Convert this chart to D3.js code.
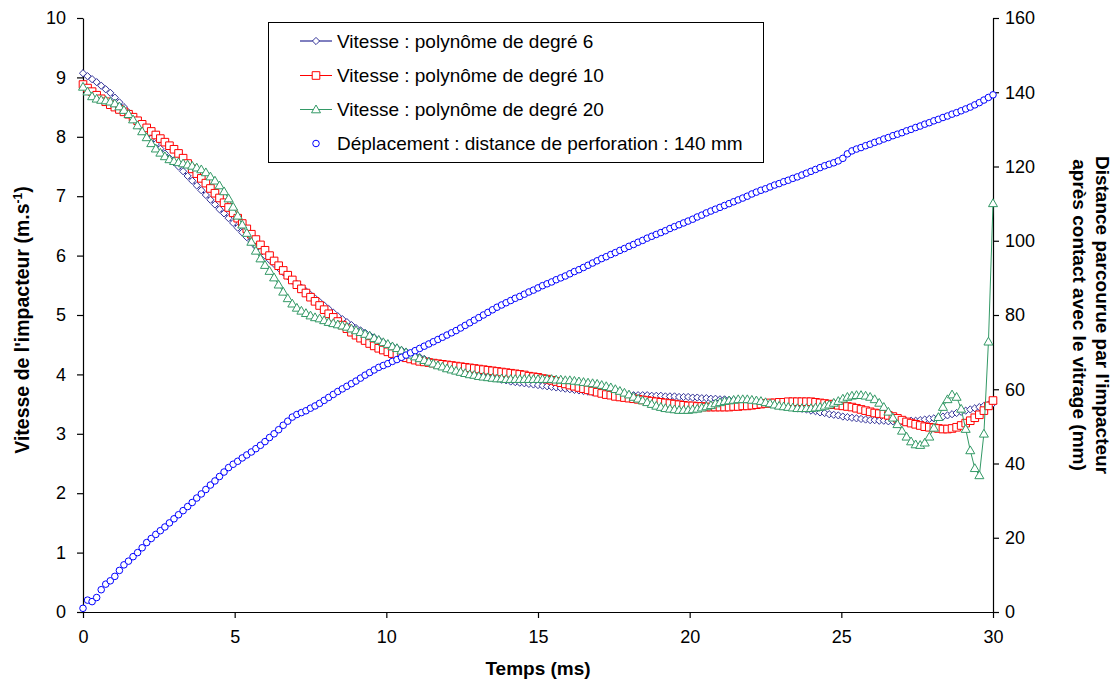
<!DOCTYPE html>
<html>
<head>
<meta charset="utf-8">
<script src="https://cdn.jsdelivr.net/npm/d3@7"></script>
<style>
html,body{margin:0;padding:0;background:#fff;}
svg{display:block;font-family:"Liberation Sans",Arial,sans-serif;}
</style>
</head>
<body>
<svg id="chart" width="1120" height="688"></svg>
<script>
// ---------- DATA ----------
const times = [
0,0.15,0.3,0.45,0.6,0.75,0.9,1.05,1.2,1.35,
1.5,1.65,1.8,1.95,2.1,2.25,2.4,2.55,2.7,2.85,
3,3.15,3.3,3.45,3.6,3.75,3.9,4.05,4.2,4.35,
4.5,4.65,4.8,4.95,5.1,5.25,5.4,5.55,5.7,5.85,
6,6.15,6.3,6.45,6.6,6.75,6.9,7.05,7.2,7.35,
7.5,7.65,7.8,7.95,8.1,8.25,8.4,8.55,8.7,8.85,
9,9.15,9.3,9.45,9.6,9.75,9.9,10.05,10.2,10.35,
10.5,10.65,10.8,10.95,11.1,11.25,11.4,11.55,11.7,11.85,
12,12.15,12.3,12.45,12.6,12.75,12.9,13.05,13.2,13.35,
13.5,13.65,13.8,13.95,14.1,14.25,14.4,14.55,14.7,14.85,
15,15.15,15.3,15.45,15.6,15.75,15.9,16.05,16.2,16.35,
16.5,16.65,16.8,16.95,17.1,17.25,17.4,17.55,17.7,17.85,
18,18.15,18.3,18.45,18.6,18.75,18.9,19.05,19.2,19.35,
19.5,19.65,19.8,19.95,20.1,20.25,20.4,20.55,20.7,20.85,
21,21.15,21.3,21.45,21.6,21.75,21.9,22.05,22.2,22.35,
22.5,22.65,22.8,22.95,23.1,23.25,23.4,23.55,23.7,23.85,
24,24.15,24.3,24.45,24.6,24.75,24.9,25.05,25.2,25.35,
25.5,25.65,25.8,25.95,26.1,26.25,26.4,26.55,26.7,26.85,
27,27.15,27.3,27.45,27.6,27.75,27.9,28.05,28.2,28.35,
28.5,28.65,28.8,28.95,29.1,29.25,29.4,29.55,29.7,29.85,
30];

// Vitesse : polynôme de degré 6 (m/s)
const vitesseDeg6 = [
9.07,9.02,8.97,8.92,8.86,8.80,8.74,8.66,8.58,8.50,
8.41,8.33,8.24,8.15,8.06,7.97,7.88,7.80,7.72,7.64,
7.57,7.50,7.42,7.34,7.26,7.18,7.10,7.02,6.94,6.86,
6.78,6.71,6.63,6.55,6.47,6.39,6.31,6.23,6.15,6.07,
6.00,5.93,5.86,5.79,5.72,5.65,5.58,5.52,5.46,5.40,
5.34,5.28,5.22,5.16,5.10,5.04,4.98,4.93,4.88,4.83,
4.78,4.74,4.70,4.66,4.62,4.58,4.54,4.50,4.47,4.44,
4.41,4.38,4.35,4.32,4.29,4.26,4.23,4.20,4.18,4.16,
4.13,4.11,4.09,4.07,4.05,4.03,4.01,3.99,3.97,3.96,
3.94,3.93,3.91,3.90,3.88,3.87,3.86,3.85,3.84,3.83,
3.82,3.81,3.80,3.79,3.78,3.77,3.76,3.75,3.74,3.73,
3.72,3.71,3.70,3.70,3.69,3.68,3.68,3.67,3.67,3.66,
3.66,3.65,3.65,3.65,3.65,3.64,3.64,3.64,3.63,3.63,
3.63,3.62,3.62,3.62,3.61,3.61,3.60,3.60,3.59,3.59,
3.58,3.58,3.57,3.57,3.56,3.55,3.55,3.54,3.53,3.52,
3.51,3.50,3.49,3.48,3.47,3.46,3.45,3.43,3.42,3.41,
3.39,3.38,3.36,3.35,3.33,3.32,3.31,3.29,3.28,3.27,
3.26,3.25,3.24,3.23,3.23,3.22,3.22,3.21,3.21,3.21,
3.21,3.21,3.22,3.22,3.23,3.24,3.25,3.26,3.28,3.29,
3.31,3.33,3.35,3.37,3.39,3.41,3.43,3.45,3.47,3.49,
3.51];

// Vitesse : polynôme de degré 10 (m/s)
const vitesseDeg10 = [
8.88,8.82,8.76,8.70,8.64,8.59,8.54,8.50,8.46,8.42,
8.38,8.33,8.27,8.21,8.15,8.09,8.03,7.97,7.91,7.85,
7.79,7.72,7.64,7.55,7.46,7.38,7.30,7.22,7.13,7.05,
6.97,6.89,6.81,6.72,6.63,6.54,6.45,6.36,6.27,6.18,
6.09,6.00,5.91,5.83,5.75,5.67,5.59,5.51,5.44,5.37,
5.30,5.23,5.16,5.09,5.02,4.96,4.89,4.83,4.77,4.71,
4.66,4.61,4.57,4.52,4.48,4.44,4.41,4.38,4.35,4.33,
4.30,4.28,4.26,4.24,4.22,4.21,4.20,4.19,4.18,4.17,
4.16,4.15,4.14,4.13,4.12,4.11,4.10,4.09,4.08,4.07,
4.06,4.05,4.04,4.03,4.02,4.01,4.00,3.99,3.97,3.96,
3.95,3.93,3.92,3.90,3.88,3.86,3.84,3.82,3.80,3.78,
3.76,3.74,3.72,3.70,3.68,3.66,3.65,3.63,3.62,3.61,
3.60,3.59,3.58,3.57,3.56,3.55,3.54,3.53,3.52,3.51,
3.50,3.49,3.48,3.47,3.47,3.46,3.46,3.45,3.45,3.45,
3.45,3.45,3.45,3.46,3.46,3.47,3.47,3.48,3.49,3.50,
3.51,3.52,3.52,3.53,3.53,3.54,3.54,3.54,3.54,3.54,
3.54,3.53,3.52,3.51,3.50,3.49,3.48,3.47,3.46,3.45,
3.43,3.41,3.39,3.37,3.35,3.34,3.33,3.31,3.29,3.26,
3.23,3.20,3.18,3.16,3.14,3.12,3.11,3.10,3.09,3.08,
3.08,3.09,3.11,3.14,3.18,3.22,3.27,3.32,3.39,3.47,
3.56];

// Vitesse : polynôme de degré 20 (m/s)
const vitesseDeg20 = [
8.84,8.76,8.68,8.64,8.62,8.61,8.59,8.56,8.51,8.45,
8.38,8.29,8.19,8.09,7.99,7.89,7.80,7.73,7.67,7.62,
7.59,7.57,7.55,7.53,7.51,7.48,7.45,7.40,7.33,7.26,
7.18,7.08,6.96,6.82,6.67,6.52,6.38,6.23,6.08,5.95,
5.84,5.74,5.63,5.51,5.39,5.28,5.19,5.12,5.07,5.03,
4.99,4.96,4.94,4.91,4.88,4.86,4.84,4.82,4.80,4.77,
4.74,4.71,4.68,4.65,4.61,4.58,4.54,4.51,4.47,4.44,
4.40,4.37,4.33,4.30,4.27,4.24,4.21,4.18,4.15,4.13,
4.10,4.08,4.06,4.04,4.02,4.00,3.99,3.97,3.96,3.95,
3.94,3.93,3.93,3.92,3.92,3.92,3.92,3.92,3.92,3.92,
3.92,3.92,3.92,3.92,3.91,3.91,3.90,3.90,3.89,3.88,
3.87,3.86,3.85,3.84,3.82,3.80,3.78,3.75,3.72,3.69,
3.66,3.62,3.59,3.56,3.53,3.50,3.47,3.45,3.43,3.42,
3.41,3.40,3.40,3.40,3.41,3.42,3.44,3.46,3.48,3.51,
3.53,3.55,3.56,3.57,3.58,3.58,3.58,3.57,3.56,3.55,
3.53,3.51,3.49,3.47,3.46,3.45,3.44,3.43,3.43,3.43,
3.43,3.44,3.45,3.47,3.49,3.52,3.55,3.59,3.62,3.64,
3.65,3.65,3.64,3.62,3.58,3.52,3.45,3.37,3.27,3.16,
3.05,2.95,2.87,2.82,2.81,2.85,2.95,3.10,3.28,3.45,
3.58,3.66,3.62,3.42,3.08,2.72,2.42,2.30,3.00,4.55,
6.88];

// Déplacement (mm), right axis
const deplacement = [
1.0,3.2,2.8,3.9,6.0,7.5,8.4,9.6,11.2,12.7,
13.7,14.9,16.0,17.3,18.7,19.8,20.9,21.9,22.9,24.0,
25.1,26.2,27.3,28.4,29.5,30.7,31.8,33.0,34.2,35.3,
36.5,37.7,38.9,39.8,40.6,41.5,42.3,43.1,44.0,44.9,
45.9,47.0,48.0,49.1,50.3,51.4,52.5,53.2,53.7,54.2,
54.9,55.5,56.2,57.0,57.8,58.6,59.4,60.1,60.8,61.5,
62.2,63.0,63.8,64.5,65.2,65.9,66.4,66.9,67.5,68.0,
68.6,69.2,69.8,70.4,71.0,71.6,72.2,72.8,73.4,74.0,
74.6,75.2,75.8,76.5,77.2,77.9,78.6,79.3,80.0,80.7,
81.4,82.1,82.7,83.3,83.9,84.5,85.0,85.6,86.2,86.7,
87.3,87.9,88.4,88.9,89.5,90.0,90.5,91.1,91.7,92.2,
92.8,93.4,94.0,94.6,95.2,95.7,96.3,96.8,97.4,97.9,
98.5,99.0,99.6,100.1,100.7,101.2,101.7,102.2,102.7,103.3,
103.8,104.3,104.8,105.3,105.8,106.4,106.9,107.5,108.0,108.5,
109.0,109.5,110.0,110.5,111.0,111.5,112.0,112.6,113.1,113.6,
114.0,114.5,115.0,115.4,115.9,116.3,116.8,117.2,117.7,118.2,
118.7,119.2,119.7,120.2,120.6,121.0,121.5,122.2,123.4,124.2,
124.7,125.1,125.6,126.0,126.5,126.9,127.4,127.8,128.3,128.7,
129.1,129.6,130.0,130.5,130.9,131.4,131.8,132.3,132.7,133.2,
133.6,134.1,134.5,135.0,135.5,136.0,136.6,137.2,137.9,138.6,
139.3];

const xTicks = [0,5,10,15,20,25,30];
const yLeftTicks = [0,1,2,3,4,5,6,7,8,9,10];
const yRightTicks = [0,20,40,60,80,100,120,140,160];
const seriesNames = [
  "Vitesse : polynôme de degré 6",
  "Vitesse : polynôme de degré 10",
  "Vitesse : polynôme de degré 20",
  "Déplacement : distance de perforation : 140 mm"
];

// ---------- CHART ----------
const svg = d3.select("#chart");
svg.append("rect").attr("width",1120).attr("height",688).attr("fill","#fff");

const x = d3.scaleLinear().domain([0,30]).range([83,993]);
const yL = d3.scaleLinear().domain([0,10]).range([612,18]);
const yR = d3.scaleLinear().domain([0,160]).range([612,18]);

const FONT = "'Liberation Sans', Arial, sans-serif";

function styleAxis(g){
  g.selectAll(".domain").attr("stroke","#000").attr("stroke-width",1.2);
  g.selectAll(".tick line").attr("stroke","#000").attr("stroke-width",1.2);
  g.selectAll(".tick text").attr("font-size",18).attr("font-family",FONT).attr("fill","#000");
}

svg.append("g").attr("transform","translate(0,612)")
  .call(d3.axisBottom(x).tickValues(xTicks).tickSize(6).tickSizeOuter(0).tickPadding(12))
  .call(styleAxis);
svg.append("g").attr("transform","translate(83,0)")
  .call(d3.axisLeft(yL).tickValues(yLeftTicks).tickSize(6).tickSizeOuter(0).tickPadding(11))
  .call(styleAxis);
svg.append("g").attr("transform","translate(993,0)")
  .call(d3.axisRight(yR).tickValues(yRightTicks).tickSize(6).tickSizeOuter(0).tickPadding(6))
  .call(styleAxis);

// marker shapes
const shapes = {
  diamond: "M0,-3.6L3.6,0L0,3.6L-3.6,0Z",
  square: "M-3.8,-3.8H3.8V3.8H-3.8Z",
  triangle: "M0,-4.5L4.5,3.3L-4.5,3.3Z",
  circle: d3.symbol().type(d3.symbolCircle).size(34)()
};

const velSeries = [
  {name: seriesNames[0], values: vitesseDeg6, line:"#000080", mark:"#333399", shape:"diamond"},
  {name: seriesNames[1], values: vitesseDeg10, line:"#FF0000", mark:"#FF0000", shape:"square"},
  {name: seriesNames[2], values: vitesseDeg20, line:"#339966", mark:"#339966", shape:"triangle"}
];

const lineGen = d3.line().x(d=>x(d[0])).y(d=>yL(d[1]));

velSeries.forEach(s=>{
  const pts = times.map((t,i)=>[t, s.values[i]]);
  const g = svg.append("g");
  g.append("path").attr("d", lineGen(pts)).attr("fill","none")
    .attr("stroke", s.line).attr("stroke-width",1);
  g.selectAll("path.m").data(pts).enter().append("path").attr("class","m")
    .attr("d", shapes[s.shape])
    .attr("transform", d=>`translate(${x(d[0])},${yL(d[1])})`)
    .attr("fill","#fff").attr("stroke", s.mark).attr("stroke-width",1);
});

// displacement markers only
const dpts = times.map((t,i)=>[t, deplacement[i]]);
svg.append("g").selectAll("path").data(dpts).enter().append("path")
  .attr("d", shapes.circle)
  .attr("transform", d=>`translate(${x(d[0])},${yR(d[1])})`)
  .attr("fill","#fff").attr("stroke","#0000FF").attr("stroke-width",1);

// ---------- LEGEND ----------
const lg = svg.append("g");
lg.append("rect").attr("x",268.5).attr("y",22.5).attr("width",495).attr("height",140)
  .attr("fill","#fff").attr("stroke","#000").attr("stroke-width",1);
const legendItems = [
  {name: seriesNames[0], line:"#000080", mark:"#333399", shape:"diamond"},
  {name: seriesNames[1], line:"#FF0000", mark:"#FF0000", shape:"square"},
  {name: seriesNames[2], line:"#339966", mark:"#339966", shape:"triangle"},
  {name: seriesNames[3], line:null, mark:"#0000FF", shape:"circle"}
];
const legendRowY = [41, 75.5, 109.5, 143.5];
legendItems.forEach((it,i)=>{
  const yy = legendRowY[i];
  if(it.line){
    lg.append("line").attr("x1",300).attr("x2",332).attr("y1",yy).attr("y2",yy)
      .attr("stroke",it.line).attr("stroke-width",1);
  }
  lg.append("path").attr("d",shapes[it.shape]).attr("transform",`translate(316,${yy})`)
    .attr("fill","#fff").attr("stroke",it.mark).attr("stroke-width",1);
  lg.append("text").attr("x",337).attr("y",yy).attr("dy","0.36em")
    .attr("font-size",19).attr("font-family",FONT).attr("fill","#000").text(it.name);
});

// ---------- AXIS TITLES ----------
svg.append("text").attr("x",538).attr("y",675).attr("text-anchor","middle")
  .attr("font-size",19).attr("font-weight","bold").attr("font-family",FONT).text("Temps (ms)");

const lt = svg.append("text").attr("transform","translate(29,320) rotate(-90)")
  .attr("text-anchor","middle").attr("font-size",19.5).attr("font-weight","bold").attr("font-family",FONT);
lt.append("tspan").text("Vitesse de l'impacteur (m.s");
lt.append("tspan").attr("font-size",12).attr("baseline-shift","super").text("-1");
lt.append("tspan").text(")");

svg.append("text").attr("transform","translate(1096,315) rotate(90)")
  .attr("text-anchor","middle").attr("font-size",19).attr("font-weight","bold").attr("font-family",FONT)
  .text("Distance parcourue par l'impacteur");
svg.append("text").attr("transform","translate(1073,315) rotate(90)")
  .attr("text-anchor","middle").attr("font-size",19).attr("font-weight","bold").attr("font-family",FONT)
  .text("après contact avec le vitrage (mm)");
</script>
</body>
</html>
